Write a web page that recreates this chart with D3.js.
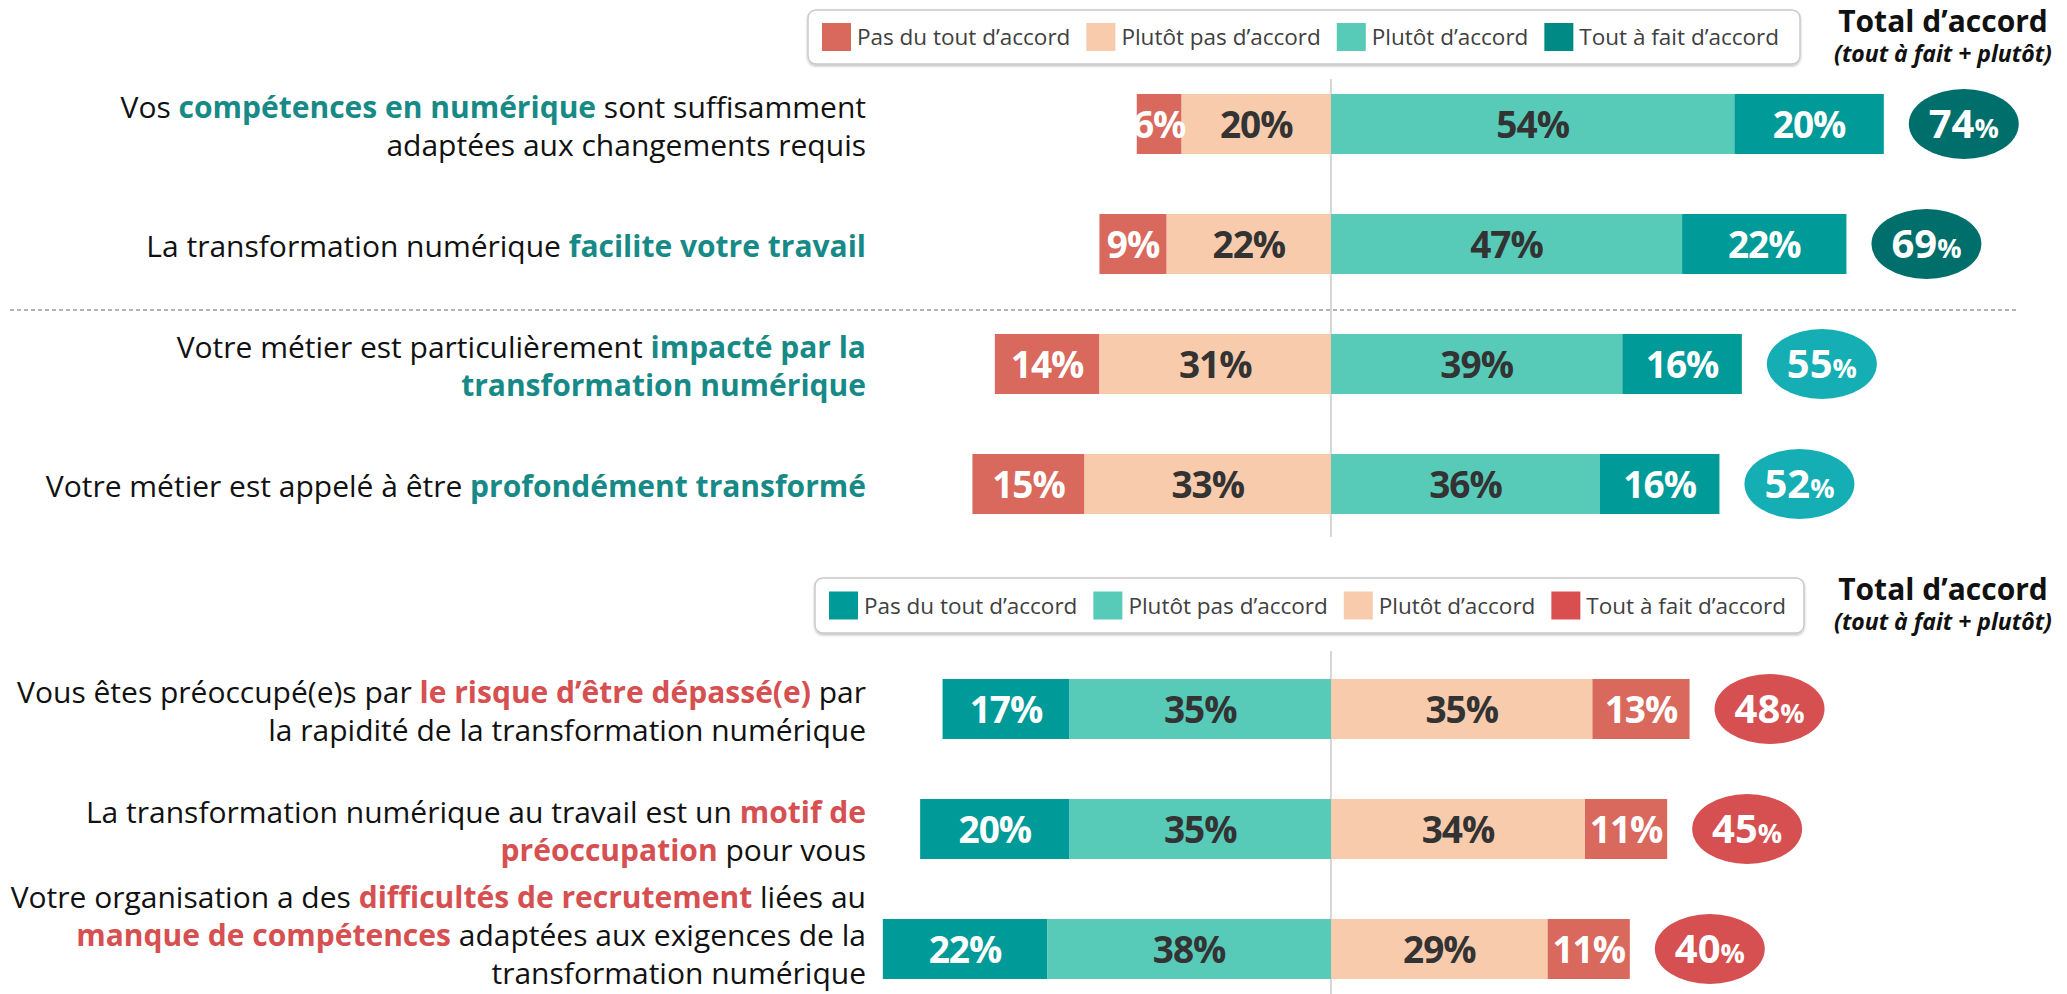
<!DOCTYPE html>
<html>
<head>
<meta charset="utf-8">
<script src="https://cdn.jsdelivr.net/npm/d3@7"></script>
<style>
	body { margin: 0; background: #fff; }
	svg { display: block; }
	text { font-family: "Open Sans", "Noto Sans", sans-serif; }
</style>
</head>
<body>
<svg id="chart" width="2067" height="994"></svg>
<script>
// answer levels, in stacking order (outer left -> outer right)
const levels = ['Pas du tout d’accord', 'Plutôt pas d’accord', 'Plutôt d’accord', 'Tout à fait d’accord'];

// top block: ** marks the highlighted words, | breaks the line
const topLabels = [
	'Vos **compétences en numérique** sont suffisamment|adaptées aux changements requis',
	'La transformation numérique **facilite votre travail**',
	'Votre métier est particulièrement **impacté par la**|**transformation numérique**',
	'Votre métier est appelé à être **profondément transformé**',
];
const topPasDuTout = [6, 9, 14, 15];
const topPlutotPas = [20, 22, 31, 33];
const topPlutot = [54, 47, 39, 36];
const topToutAFait = [20, 22, 16, 16];
const topTotal = [74, 69, 55, 52];

// bottom block
const bottomLabels = [
	'Vous êtes préoccupé(e)s par **le risque d’être dépassé(e)** par|la rapidité de la transformation numérique',
	'La transformation numérique au travail est un **motif de**|**préoccupation** pour vous',
	'Votre organisation a des **difficultés de recrutement** liées au|**manque de compétences** adaptées aux exigences de la|transformation numérique',
];
const bottomPasDuTout = [17, 20, 22];
const bottomPlutotPas = [35, 35, 38];
const bottomPlutot = [35, 34, 29];
const bottomToutAFait = [13, 11, 11];
const bottomTotal = [48, 45, 40];

const totalTitle = 'Total d’accord';
const totalSub = '(tout à fait + plutôt)';

// colours
const RED = '#d9685d', PEACH = '#f8cbad', MINT = '#57cab8', TEAL = '#009a98';
const DARK = '#333333';

const W = 2067, H = 994;
const svg = d3.select('#chart');
const cx = 1331;
const x = d3.scaleLinear().domain([0, 10]).range([cx, cx + 74.7]);

const shadow = svg.append('defs').append('filter')
	.attr('id', 'shadow').attr('x', '-5%').attr('y', '-20%').attr('width', '110%').attr('height', '150%');
shadow.append('feDropShadow')
	.attr('dx', 0).attr('dy', 1.5).attr('stdDeviation', 1.2)
	.attr('flood-color', '#000').attr('flood-opacity', 0.25);

function drawSection(cfg) {
	const n = cfg.labels.length;
	const y = d3.scaleBand().domain(d3.range(n)).range(cfg.yRange).paddingInner(0.5).paddingOuter(0.25);
	const g = svg.append('g');

	// legend box
	const lg = g.append('g');
	lg.append('rect')
		.attr('x', cfg.legend.x).attr('y', cfg.legend.y)
		.attr('width', cfg.legend.w).attr('height', cfg.legend.h)
		.attr('rx', 8)
		.attr('fill', '#fff').attr('stroke', '#c9c9c9').attr('stroke-width', 1.5)
		.attr('filter', 'url(#shadow)');
	let lx = cfg.legend.x + 14;
	const ly = cfg.legend.y + cfg.legend.h / 2;
	levels.forEach((name, k) => {
		lg.append('rect')
			.attr('x', lx).attr('y', ly - 14)
			.attr('width', 29).attr('height', 28)
			.attr('fill', cfg.legendColors[k]);
		const t = lg.append('text')
			.attr('x', lx + 35).attr('y', ly + 8)
			.attr('font-size', 22.5).attr('fill', '#404040')
			.text(name);
		lx += 35 + t.node().getComputedTextLength() + 16;
	});

	// total header
	g.append('text')
		.attr('x', 1943).attr('y', cfg.legend.y + 22)
		.attr('text-anchor', 'middle').attr('font-size', 30).attr('font-weight', 700)
		.attr('fill', '#111')
		.text(totalTitle);
	g.append('text')
		.attr('x', 1943).attr('y', cfg.legend.y + 52)
		.attr('text-anchor', 'middle').attr('font-size', 23).attr('font-weight', 700)
		.attr('font-style', 'italic').attr('fill', '#111')
		.text(totalSub);

	// centre axis line
	g.append('line')
		.attr('x1', x(0)).attr('x2', x(0))
		.attr('y1', cfg.axisY[0]).attr('y2', cfg.axisY[1])
		.attr('stroke', '#bdbdbd').attr('stroke-width', 1.2);

	// stacked segments
	const rows = d3.range(n).map(i => {
		const [a, b, c, d] = cfg.series.map(s => s[i]);
		return [
			{ k: 0, v: a, x0: -(a + b), x1: -b },
			{ k: 1, v: b, x0: -b, x1: 0 },
			{ k: 2, v: c, x0: 0, x1: c },
			{ k: 3, v: d, x0: c, x1: c + d },
		].map(s => Object.assign(s, { i }));
	});

	const rowG = g.selectAll('g.row').data(rows).enter().append('g').attr('class', 'row');
	rowG.selectAll('rect').data(d => d).enter().append('rect')
		.attr('x', d => x(d.x0))
		.attr('y', d => y(d.i))
		.attr('width', d => x(d.x1) - x(d.x0))
		.attr('height', y.bandwidth())
		.attr('fill', d => cfg.colors[d.k]);
	rowG.selectAll('text').data(d => d).enter().append('text')
		.attr('x', d => (x(d.x0) + x(d.x1)) / 2)
		.attr('y', d => y(d.i) + y.bandwidth() / 2 + 13.5)
		.attr('text-anchor', 'middle')
		.attr('font-size', 37).attr('font-weight', 700)
		.attr('letter-spacing', -1)
		.attr('fill', d => cfg.textColors[d.k])
		.text(d => d.v + '%');

	// total bubbles
	const bub = g.selectAll('g.bubble').data(cfg.totals).enter().append('g').attr('class', 'bubble')
		.attr('transform', (d, i) => `translate(${x(d) + 80},${y(i) + y.bandwidth() / 2})`);
	bub.append('ellipse')
		.attr('rx', 55).attr('ry', 35)
		.attr('fill', (d, i) => cfg.bubbleColors[i]);
	const bt = bub.append('text')
		.attr('y', 14).attr('text-anchor', 'middle')
		.attr('font-weight', 700).attr('fill', '#fff');
	bt.append('tspan').attr('font-size', 40).text(d => d);
	bt.append('tspan').attr('font-size', 27).text('%');

	// category labels
	const lineH = 38;
	cfg.labels.forEach((label, i) => {
		const lines = label.split('|');
		const yc = y(i) + y.bandwidth() / 2;
		let first = yc - (lines.length - 1) * lineH / 2 + 13;
		const last = first + (lines.length - 1) * lineH;
		if (last > H - 10) first -= last - (H - 10);
		lines.forEach((line, j) => {
			const t = g.append('text')
				.attr('x', 866).attr('y', first + j * lineH)
				.attr('text-anchor', 'end')
				.attr('font-size', 30).attr('fill', '#111');
			line.split('**').forEach((part, p) => {
				if (!part) return;
				const bold = p % 2 === 1;
				t.append('tspan')
					.attr('font-weight', bold ? 700 : 400)
					.attr('fill', bold ? cfg.highlight : '#111')
					.text(part);
			});
		});
	});
}

drawSection({
	labels: topLabels,
	series: [topPasDuTout, topPlutotPas, topPlutot, topToutAFait],
	totals: topTotal,
	colors: [RED, PEACH, MINT, TEAL],
	legendColors: [RED, PEACH, MINT, '#008a85'],
	textColors: ['#fff', DARK, DARK, '#fff'],
	bubbleColors: ['#006e6a', '#006e6a', '#14aeb4', '#14aeb4'],
	highlight: '#178a87',
	yRange: [64, 544],
	axisY: [79, 537],
	legend: { x: 808, y: 10, w: 992, h: 54 },
});

// separator between the two top groups
svg.append('line')
	.attr('x1', 10).attr('x2', 2017)
	.attr('y1', 310).attr('y2', 310)
	.attr('stroke', '#9a9a9a').attr('stroke-width', 1.5)
	.attr('stroke-dasharray', '4 3');

drawSection({
	labels: bottomLabels,
	series: [bottomPasDuTout, bottomPlutotPas, bottomPlutot, bottomToutAFait],
	totals: bottomTotal,
	colors: [TEAL, MINT, PEACH, RED],
	legendColors: [TEAL, MINT, PEACH, '#d94f50'],
	textColors: ['#fff', DARK, DARK, '#fff'],
	bubbleColors: ['#d64f51', '#d64f51', '#d64f51'],
	highlight: '#d64f51',
	yRange: [649, 1009],
	axisY: [651, 994],
	legend: { x: 815, y: 578, w: 989, h: 55 },
});
</script>
</body>
</html>
